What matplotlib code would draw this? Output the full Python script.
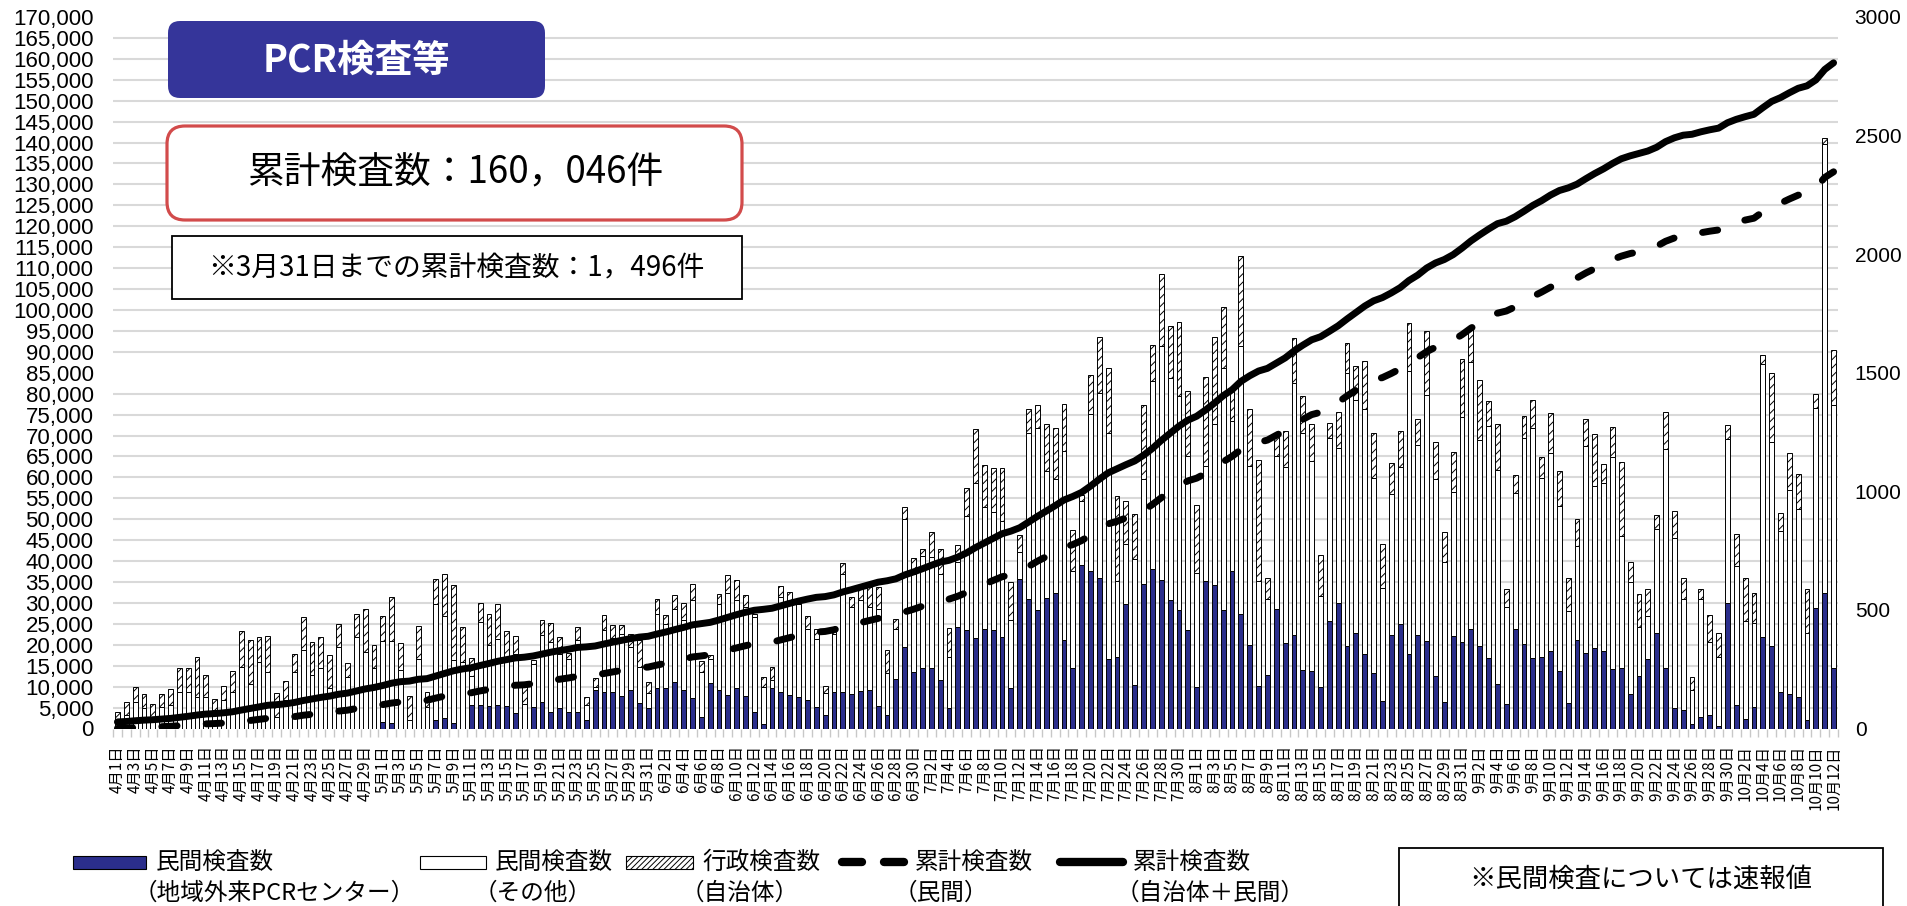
import numpy as np
import pandas as pd
import matplotlib
matplotlib.use("Agg")
import matplotlib.pyplot as plt
from matplotlib.patches import FancyBboxPatch, Rectangle
from matplotlib.lines import Line2D
from matplotlib.transforms import IdentityTransform

plt.rcParams['font.family'] = ['Noto Sans CJK JP', 'DejaVu Sans']
plt.rcParams['hatch.linewidth'] = 0.7

W_PX, H_PX = 1907, 906
NAVY = "#2B2E8C"

dates = pd.date_range("2020-04-01", "2020-10-12")
date_labels = [f"{d.month}月{d.day}日" for d in dates]

# 民間検査数（地域外来PCRセンター）
private_center = [
    0, 0, 0, 0, 0, 0, 0, 0, 0, 0,
    0, 0, 0, 0, 0, 0, 0, 0, 0, 0,
    0, 0, 0, 0, 0, 0, 0, 0, 0, 0,
    29, 22, 0, 0, 0, 0, 36, 43, 22, 0,
    99, 99, 95, 99, 96, 64, 0, 92, 113, 68,
    85, 68, 68, 36, 162, 152, 152, 137, 162, 109,
    85, 169, 169, 197, 162, 127, 50, 190, 162, 141,
    169, 138, 71, 19, 169, 155, 141, 134,
    120, 92, 56, 155, 155, 145, 159, 162, 95, 56,
    207, 343, 239, 256, 256, 204, 85, 428, 417, 381,
    421, 417, 386, 169, 631, 547, 500, 551, 570, 372,
    253, 691, 662, 634, 294, 302, 526, 183,
    610, 673, 627, 540, 498, 417, 176, 620, 606, 498,
    666, 484, 354, 178, 227, 505, 362, 393, 246, 241,
    176, 453, 530, 347, 403, 313, 235, 116, 393, 442,
    313, 393, 368, 222, 112, 388, 365, 421,
    346, 296, 187, 104, 421, 358, 296, 301, 326, 241,
    108, 375, 318, 341, 326, 251, 257, 146, 221, 293,
    401, 257, 87, 78, 20, 50, 58, 11, 530, 100,
    40, 92, 385, 349, 154, 146, 132, 36, 508, 572, 254,
]

# 民間検査数（その他）
private_other = [
    36, 57, 113, 85, 50, 92, 99, 155, 155, 133,
    133, 78, 120, 155, 260, 189, 281, 238, 50, 120,
    239, 332, 225, 253, 169, 344, 217, 386, 322, 253,
    342, 349, 245, 36, 294, 92, 490, 432, 266, 281,
    121, 350, 256, 280, 206, 252, 103, 182, 280, 297,
    231, 227, 304, 63, 11, 262, 231, 263, 182, 151,
    63, 315, 270, 308, 294, 413, 189, 105, 361, 430,
    374, 374, 399, 157, 35, 399, 392, 392,
    300, 287, 92, 245, 497, 367, 381, 350, 410, 176,
    214, 540, 413, 473, 466, 448, 217, 273, 480, 656,
    511, 494, 490, 287, 112, 700, 768, 535, 481, 800,
    413, 268, 662, 781, 953, 322, 251, 532,
    441, 791, 984, 938, 903, 732, 479, 487, 679, 1022,
    630, 1127, 753, 442, 320, 644, 741, 1064, 1001, 887,
    382, 773, 654, 1152, 984, 1036, 820, 476, 594, 661,
    1193, 802, 1037, 829, 589, 610, 949, 1123,
    871, 979, 905, 410, 570, 867, 971, 757, 835, 699,
    389, 393, 873, 683, 710, 894, 553, 471, 206, 182,
    442, 921, 715, 469, 142, 497, 305, 290, 692, 584,
    415, 351, 1154, 859, 677, 861, 792, 368, 842, 1892, 1108,
]

# 行政検査数（自治体）
public = [
    35, 53, 61, 61, 52, 53, 68, 99, 99, 167,
    94, 47, 58, 88, 150, 183, 104, 153, 99, 81,
    74, 139, 139, 132, 143, 97, 60, 96, 181, 99,
    102, 184, 116, 102, 138, 61, 105, 176, 316, 146,
    78, 81, 133, 147, 108, 75, 76, 14, 66, 80,
    68, 25, 57, 35, 38, 66, 55, 36, 56, 112,
    49, 61, 41, 58, 74, 68, 47, 14, 45, 78,
    84, 53, 14, 42, 56, 46, 42, 14,
    53, 42, 32, 14, 44, 44, 49, 84, 91, 101,
    42, 49, 66, 28, 105, 105, 123, 74, 119, 224,
    179, 189, 221, 161, 73, 101, 95, 196, 217, 198,
    172, 26, 168, 235, 273, 356, 184, 189,
    315, 154, 304, 218, 315, 273, 288, 374, 365, 259,
    129, 382, 241, 511, 87, 88, 151, 189, 157, 154,
    175, 63, 150, 126, 143, 202, 192, 186, 131, 151,
    203, 112, 273, 158, 126, 169, 244, 155,
    251, 106, 192, 75, 78, 92, 120, 87, 170, 146,
    137, 117, 116, 218, 80, 127, 315, 84, 142, 114,
    56, 156, 114, 87, 54, 42, 117, 100, 58, 134,
    179, 129, 37, 290, 76, 154, 150, 185, 62, 25, 235,
]

before_april = 1496  # 3月31日までの累計

n = np.array(private_center)
o = np.array(private_other)
p = np.array(public)
x = np.arange(len(dates))
cum_all = before_april + np.cumsum(n + o + p)
cum_private = np.cumsum(n + o)

fig = plt.figure(figsize=(W_PX / 100, H_PX / 100), dpi=100)
ax = fig.add_axes([113 / W_PX, 1 - 728.5 / H_PX, (1838 - 113) / W_PX, (728.5 - 17) / H_PX])
ax2 = ax.twinx()

# daily bars (right scale)
bw = 0.55
ax.bar(x, n, bw, color=NAVY, edgecolor="black", linewidth=0.7, zorder=2)
ax.bar(x, o, bw, bottom=n, color="white", edgecolor="black", linewidth=0.7, zorder=2)
ax.bar(x, p, bw, bottom=n + o, color="white", edgecolor="black", linewidth=0.7,
       hatch="////", zorder=2)

ax.set_xlim(-0.5, len(x) - 0.5)
ax.set_ylim(0, 3000)
ax.yaxis.tick_right()
ax.set_yticks(np.arange(0, 3001, 500))
ax.set_yticks(np.linspace(0, 3000, 35), minor=True)
ax.tick_params(axis="y", which="major", length=0, pad=12, labelsize=15)
ax.tick_params(axis="y", which="minor", length=0)
for lbl in ax.get_yticklabels():
    lbl.set_fontfamily(["Liberation Sans", "DejaVu Sans"])
ax.yaxis.grid(True, which="minor", color="#d9d9d9", linewidth=1.5)
ax.set_axisbelow(True)

ax.set_xticks(x[::2], date_labels[::2], rotation=90, fontsize=11)
ax.set_xticks(np.arange(-0.5, len(x), 1), minor=True)
ax.tick_params(axis="x", which="major", length=0, pad=12)
ax.tick_params(axis="x", which="minor", length=6, width=1, color="#c8c8c8")

# cumulative lines (left scale)
ax2.plot(x, cum_private, color="black", linewidth=5, dashes=(2.2, 4.2),
         dash_capstyle="round")
ax2.plot(x, cum_all, color="black", linewidth=5, solid_capstyle="round")
ax2.set_ylim(0, 170000)
ax2.yaxis.tick_left()
left_ticks = np.arange(0, 170001, 5000)
ax2.set_yticks(left_ticks, [f"{v:,}" for v in left_ticks])
ax2.tick_params(axis="y", length=0, pad=14, labelsize=16)
for lbl in ax2.get_yticklabels():
    lbl.set_fontfamily(["Liberation Sans Narrow", "Liberation Sans", "DejaVu Sans"])

for a in (ax, ax2):
    for s in a.spines.values():
        s.set_visible(False)


def px(xp, yp):
    return xp, H_PX - yp


# boxes in the top left
idt = IdentityTransform()
fig.add_artist(FancyBboxPatch(px(168, 98), 377, 77, boxstyle="round,pad=0,rounding_size=12",
                              facecolor="#35359A", edgecolor="none", transform=idt))
fig.text(356 / W_PX, 1 - 60 / H_PX, "PCR検査等", color="white", fontsize=27,
         fontweight="bold", ha="center", va="center")

fig.add_artist(FancyBboxPatch(px(167, 220), 575, 94, boxstyle="round,pad=0,rounding_size=18",
                              facecolor="white", edgecolor="#D24B4B", linewidth=2.3,
                              transform=idt))
fig.text(455 / W_PX, 1 - 173 / H_PX, "累計検査数：160，046件", fontsize=26.5,
         ha="center", va="center")

fig.add_artist(Rectangle(px(172, 299), 570, 63, facecolor="white", edgecolor="black",
                         linewidth=1.3, transform=idt))
fig.text(456 / W_PX, 1 - 268 / H_PX, "※3月31日までの累計検査数：1，496件", fontsize=20,
         ha="center", va="center")

# legend
ly1, ly2 = 862, 893
fig.add_artist(Rectangle(px(73, 869), 73, 13, facecolor=NAVY, edgecolor="black",
                         linewidth=0.8, transform=idt))
fig.add_artist(Rectangle(px(420, 869), 66, 13, facecolor="white", edgecolor="black",
                         linewidth=0.8, transform=idt))
fig.add_artist(Rectangle(px(626, 869), 67, 13, facecolor="white", edgecolor="black",
                         linewidth=0.8, hatch="//////", transform=idt))
for xa, xb in ((842, 862), (884, 904)):
    fig.add_artist(Line2D([xa, xb], [H_PX - ly1, H_PX - ly1], color="black", linewidth=6,
                          solid_capstyle="round", transform=idt))
fig.add_artist(Line2D([1060, 1123], [H_PX - ly1, H_PX - ly1], color="black", linewidth=6,
                      solid_capstyle="round", transform=idt))

legend_items = [
    (156, 134, "民間検査数", "（地域外来PCRセンター）"),
    (495, 474, "民間検査数", "（その他）"),
    (702, 681, "行政検査数", "（自治体）"),
    (915, 894, "累計検査数", "（民間）"),
    (1133, 1116, "累計検査数", "（自治体＋民間）"),
]
for x1, x2, t1, t2 in legend_items:
    fig.text(x1 / W_PX, 1 - ly1 / H_PX, t1, fontsize=17, ha="left", va="center")
    fig.text(x2 / W_PX, 1 - ly2 / H_PX, t2, fontsize=17, ha="left", va="center")

fig.add_artist(Rectangle(px(1399, 915), 484, 67, facecolor="white", edgecolor="black",
                         linewidth=1.3, transform=idt))
fig.text(1641 / W_PX, 1 - 879 / H_PX, "※民間検査については速報値", fontsize=19,
         ha="center", va="center")

fig.savefig("out.png", dpi=100)
